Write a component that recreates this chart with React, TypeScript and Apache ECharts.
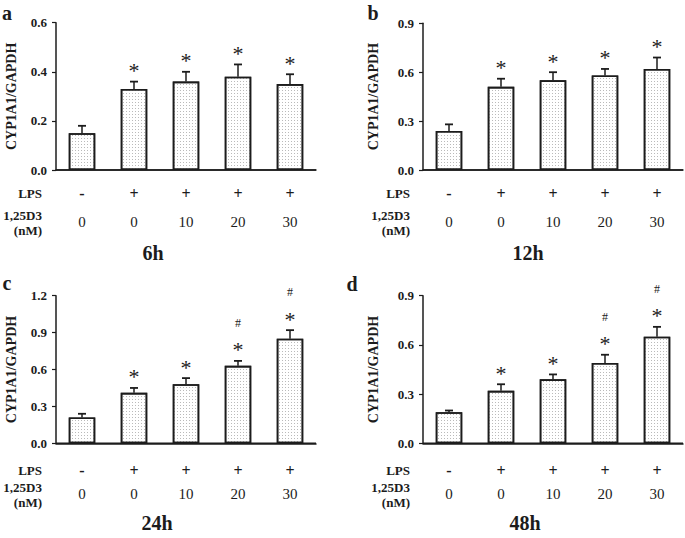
import React, { useEffect, useRef } from "react";
import * as echarts from "echarts";

const categories = ["Control", "LPS", "LPS+D3 10", "LPS+D3 20", "LPS+D3 30"];
const lpsSigns = ["-", "+", "+", "+", "+"];
const doses = ["0", "0", "10", "20", "30"];

const meanA = [0.15, 0.33, 0.36, 0.38, 0.35];
const sdA = [0.03, 0.03, 0.04, 0.05, 0.04];
const starA = ["", "*", "*", "*", "*"];
const hashA = ["", "", "", "", ""];

const meanB = [0.24, 0.51, 0.55, 0.58, 0.62];
const sdB = [0.04, 0.05, 0.05, 0.04, 0.07];
const starB = ["", "*", "*", "*", "*"];
const hashB = ["", "", "", "", ""];

const meanC = [0.21, 0.41, 0.48, 0.63, 0.85];
const sdC = [0.03, 0.04, 0.05, 0.04, 0.07];
const starC = ["", "*", "*", "*", "*"];
const hashC = ["", "", "", "#", "#"];

const meanD = [0.19, 0.32, 0.39, 0.49, 0.65];
const sdD = [0.01, 0.04, 0.03, 0.05, 0.06];
const starD = ["", "*", "*", "*", "*"];
const hashD = ["", "", "", "#", "#"];

const yMaxes = [0.6, 0.9, 1.2, 0.9];
const yIntervals = [0.2, 0.3, 0.3, 0.3];
const panelLetters = ["a", "b", "c", "d"];
const timeLabels = ["6h", "12h", "24h", "48h"];
const yTitle = "CYP1A1/GAPDH";

const FONT = "Liberation Serif, Times New Roman, serif";
const INK = "#1c1c1c";

const panels = [
  {
    mean: meanA, sd: sdA, star: starA, hash: hashA,
    grid: { left: 56, top: 22.7, width: 260, height: 147.3 },
    nameGap: 38, labelMargin: 9, rowLH: 28.4,
    headX: 42, headY: [193.3, 215, 230], titleXY: [153, 253], letterXY: [7, 13],
  },
  {
    mean: meanB, sd: sdB, star: starB, hash: hashB,
    grid: { left: 423, top: 23.3, width: 260, height: 146.7 },
    nameGap: 43, labelMargin: 9, rowLH: 28.4,
    headX: 410, headY: [193.3, 215, 230], titleXY: [528, 253], letterXY: [373, 13],
  },
  {
    mean: meanC, sd: sdC, star: starC, hash: hashC,
    grid: { left: 56, top: 295.7, width: 260, height: 147.6 },
    nameGap: 38, labelMargin: 14.7, rowLH: 24,
    headX: 42, headY: [470, 487, 502], titleXY: [157, 523], letterXY: [7, 283],
  },
  {
    mean: meanD, sd: sdD, star: starD, hash: hashD,
    grid: { left: 423, top: 295.7, width: 260, height: 147.6 },
    nameGap: 43, labelMargin: 14.7, rowLH: 24,
    headX: 410, headY: [470, 487, 502], titleXY: [525, 523], letterXY: [352, 284],
  },
];

export default function App() {
  const ref = useRef<HTMLDivElement>(null);
  useEffect(() => {
    if (!ref.current) return;
    const chart = echarts.init(ref.current, null, { renderer: "svg" });

    const grids: any[] = [];
    const xAxes: any[] = [];
    const yAxes: any[] = [];
    const series: any[] = [];
    const graphics: any[] = [];

    panels.forEach((p, i) => {
      grids.push({ ...p.grid, containLabel: false });
      xAxes.push({
        type: "category",
        gridIndex: i,
        data: categories,
        axisTick: { show: false },
        axisLine: { lineStyle: { color: INK, width: 1.5 } },
        axisLabel: {
          interval: 0,
          margin: p.labelMargin,
          color: INK,
          fontFamily: FONT,
          formatter: (_v: string, idx: number) => `{p|${lpsSigns[idx]}}\n{d|${doses[idx]}}`,
          rich: {
            p: { fontFamily: FONT, fontSize: 16, fontWeight: "bold", color: INK, lineHeight: p.rowLH },
            d: { fontFamily: FONT, fontSize: 15, color: INK, lineHeight: p.rowLH },
          },
        },
      });
      yAxes.push({
        type: "value",
        gridIndex: i,
        min: 0,
        max: yMaxes[i],
        interval: yIntervals[i],
        splitLine: { show: false },
        axisLine: { show: true, lineStyle: { color: INK, width: 1.5 } },
        axisTick: { show: true, length: 4, lineStyle: { color: INK, width: 1.2 } },
        axisLabel: {
          margin: 9,
          fontFamily: FONT,
          fontSize: 13,
          fontWeight: "bold",
          color: INK,
          formatter: (v: number) => v.toFixed(1),
        },
        name: yTitle,
        nameLocation: "middle",
        nameRotate: 90,
        nameGap: p.nameGap,
        nameTextStyle: { fontFamily: FONT, fontSize: 14, fontWeight: "bold", color: INK },
      });
      series.push({
        type: "bar",
        xAxisIndex: i,
        yAxisIndex: i,
        data: p.mean,
        barWidth: 26.5,
        itemStyle: {
          color: "#ffffff",
          borderColor: INK,
          borderWidth: 1.6,
          decal: {
            symbol: "rect",
            symbolSize: 1,
            dashArrayX: [1, 2],
            dashArrayY: [1, 2],
            color: "rgba(90,90,90,0.42)",
          },
        },
        z: 2,
      });
      series.push({
        type: "custom",
        xAxisIndex: i,
        yAxisIndex: i,
        data: p.mean.map((m, k) => [k, m, m + p.sd[k]]),
        z: 3,
        renderItem: (params: any, api: any) => {
          const base = api.coord([api.value(0), api.value(1)]);
          const top = api.coord([api.value(0), api.value(2)]);
          const x = base[0];
          const k = params.dataIndex;
          const children: any[] = [
            { type: "line", shape: { x1: x, y1: base[1], x2: x, y2: top[1] }, style: { stroke: INK, lineWidth: 1.5 } },
            { type: "line", shape: { x1: x - 4, y1: top[1], x2: x + 4, y2: top[1] }, style: { stroke: INK, lineWidth: 1.8 } },
          ];
          if (p.star[k]) {
            children.push({
              type: "text",
              x,
              y: top[1] - 11,
              style: { text: p.star[k], fontFamily: FONT, fontSize: 22, fill: INK, align: "center", verticalAlign: "middle" },
            });
          }
          if (p.hash[k]) {
            children.push({
              type: "text",
              x,
              y: top[1] - 38,
              style: { text: p.hash[k], fontFamily: FONT, fontSize: 12, fill: INK, align: "center", verticalAlign: "middle" },
            });
          }
          return { type: "group", children };
        },
      });

      const g = p.grid;
      graphics.push({
        type: "line",
        shape: { x1: g.left, y1: g.top + g.height, x2: g.left + g.width, y2: g.top + g.height },
        style: { stroke: INK, lineWidth: 1.5 },
        silent: true,
      });
      const heads = ["LPS", "1,25D3", "(nM)"];
      heads.forEach((t, j) => {
        graphics.push({
          type: "text",
          x: p.headX,
          y: p.headY[j],
          style: { text: t, fontFamily: FONT, fontSize: 13, fontWeight: "bold", fill: INK, align: "right", verticalAlign: "middle" },
        });
      });
      graphics.push({
        type: "text",
        x: p.titleXY[0],
        y: p.titleXY[1],
        style: { text: timeLabels[i], fontFamily: FONT, fontSize: 20, fontWeight: "bold", fill: INK, align: "center", verticalAlign: "middle" },
      });
      graphics.push({
        type: "text",
        x: p.letterXY[0],
        y: p.letterXY[1],
        style: { text: panelLetters[i], fontFamily: FONT, fontSize: 20, fontWeight: "bold", fill: INK, align: "center", verticalAlign: "middle" },
      });
    });

    chart.setOption({
      animation: false,
      backgroundColor: "#ffffff",
      grid: grids,
      xAxis: xAxes,
      yAxis: yAxes,
      series,
      graphic: graphics,
    });
    return () => chart.dispose();
  }, []);
  return (
    <div
      ref={ref}
      style={{ position: "absolute", left: 0, top: 0, width: 685, height: 538, background: "#fff" }}
    />
  );
}
